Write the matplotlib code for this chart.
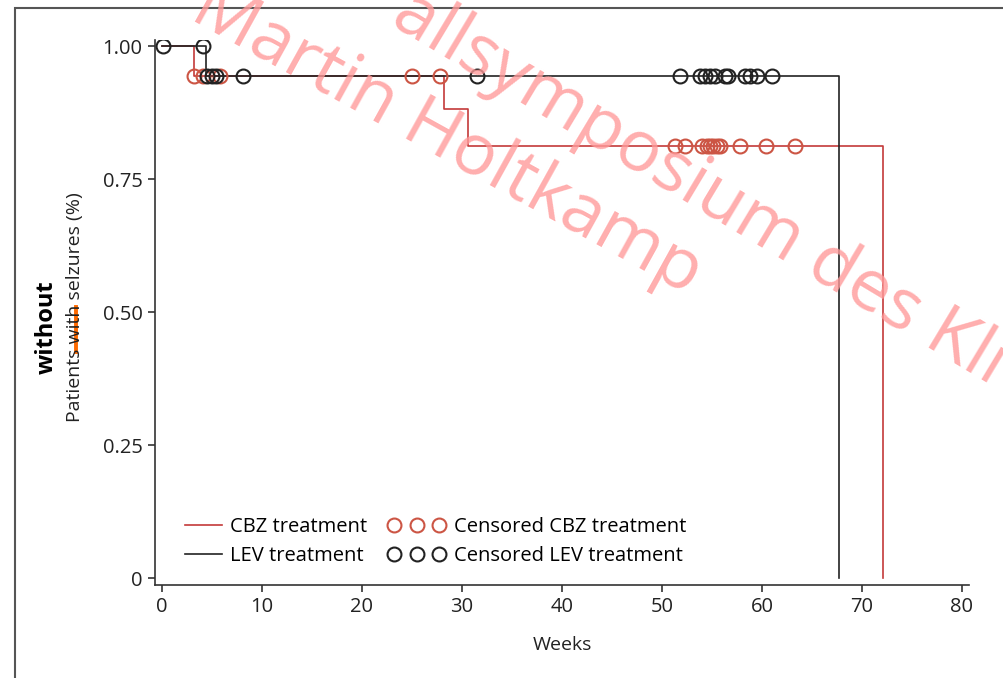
import numpy as np
import matplotlib.pyplot as plt
from matplotlib.lines import Line2D
from matplotlib.patches import Rectangle

plt.rcParams['font.family'] = ['Open Sans', 'DejaVu Sans']

# Kaplan-Meier steps (weeks, proportion without seizures)
cbz_times = [0, 3.2, 28.2, 30.6, 72.1]
cbz_surv = [1.0, 0.944, 0.882, 0.812, 0.0]
lev_times = [0, 4.4, 67.7]
lev_surv = [1.0, 0.944, 0.0]

# censored observations (weeks)
cbz_cens = [3.2, 4.1, 5.8, 25.0, 27.8,
            51.3, 52.3, 54.0, 54.5, 54.8, 55.1, 55.5, 55.8, 57.8, 60.4, 63.3]
lev_cens = [0.1, 4.1, 4.5, 5.0, 5.4, 8.1, 31.5,
            51.8, 53.8, 54.3, 54.8, 55.3, 56.3, 56.6, 58.3, 58.8, 59.5, 61.0]

x_ticks = [0, 10, 20, 30, 40, 50, 60, 70, 80]
y_ticks = [0, 0.25, 0.5, 0.75, 1.0]
y_labels = ['0', '0.25', '0.50', '0.75', '1.00']

red = '#c43a3a'
red_c = '#cc5544'
dark = '#222222'


def surv_at(times, surv, t):
    idx = np.searchsorted(times, t, side='right') - 1
    return np.array(surv)[idx]


fig = plt.figure(figsize=(10.04, 6.78), dpi=100)
ax = fig.add_axes([155 / 1004, 1 - 585 / 678, 814 / 1004, 545 / 678])

ax.step(cbz_times, cbz_surv, where='post', color=red, lw=1.2, zorder=3)
ax.step(lev_times, lev_surv, where='post', color=dark, lw=1.2, zorder=3)
ax.plot(cbz_cens, surv_at(cbz_times, cbz_surv, cbz_cens), 'o', ms=10,
        mfc='none', mec=red_c, mew=1.5, zorder=4)
ax.plot(lev_cens, surv_at(lev_times, lev_surv, lev_cens), 'o', ms=10,
        mfc='none', mec=dark, mew=1.5, zorder=4)

ax.set_xlim(-0.7, 80.7)
ax.set_ylim(-0.013, 1.012)
ax.set_xticks(x_ticks)
ax.set_yticks(y_ticks)
ax.set_yticklabels(y_labels)
for s in ['top', 'right']:
    ax.spines[s].set_visible(False)
for s in ['left', 'bottom']:
    ax.spines[s].set_color('#333333')
    ax.spines[s].set_linewidth(1.2)
ax.tick_params(direction='out', length=5, width=1.2, color='#333333',
               labelsize=14.5, labelcolor='#222222', pad=4)
ax.set_xlabel('Weeks', fontsize=14, color='#222222', labelpad=13)

# legends
h1 = [Line2D([], [], color=red, lw=1.2), Line2D([], [], color=dark, lw=1.2)]
leg1 = ax.legend(h1, ['CBZ treatment', 'LEV treatment'], loc='center left',
                 bbox_to_anchor=(0.037, 0.080), frameon=False, fontsize=14.5,
                 handlelength=1.85, handletextpad=0.4, labelspacing=0.45,
                 borderpad=0, borderaxespad=0)
ax.add_artist(leg1)
h2 = [Line2D([], [], ls='none', marker='o', ms=10, mfc='none', mec=red_c, mew=1.5),
      Line2D([], [], ls='none', marker='o', ms=10, mfc='none', mec=dark, mew=1.5)]
ax.legend(h2, ['Censored CBZ treatment', 'Censored LEV treatment'],
          loc='center left', bbox_to_anchor=(0.286, 0.080), frameon=False,
          fontsize=14.5, numpoints=3, handlelength=2.85, handletextpad=0.45,
          labelspacing=0.45, borderpad=0, borderaxespad=0)

# y label with handwritten correction
fig.text(75 / 1004, 1 - 307 / 678, 'Patients with selzures (%)', rotation=90,
         ha='center', va='center', fontsize=14, color='#222222')
fig.text(47 / 1004, 1 - 327 / 678, 'without', rotation=90, ha='center',
         va='center', fontsize=17, fontweight='bold', color='black')
fig.add_artist(Line2D([76 / 1004, 76 / 1004], [1 - 307 / 678, 1 - 352 / 678],
                      color='#ff6a00', lw=2.8, transform=fig.transFigure))

# outer frame
fig.add_artist(Rectangle((15 / 1004, -0.05), 1.1, 1 - 8 / 678 + 0.05,
                         fill=False, ec='#555555', lw=1.5,
                         transform=fig.transFigure))

# watermark (cut off at the picture edges, as in the source)
fig.text(447 / 1004, 1 - 140 / 678, 'Martin Holtkamp', rotation=-29,
         ha='center', va='center', fontsize=52, color='#ff9a9a', alpha=0.8,
         rotation_mode='anchor', zorder=10)
fig.text(700 / 1004, 1 - 188 / 678, 'allsymposium des Kli', rotation=-31,
         ha='center', va='center', fontsize=52, color='#ff9a9a', alpha=0.8,
         rotation_mode='anchor', zorder=10)

fig.savefig('out.png', dpi=100)
